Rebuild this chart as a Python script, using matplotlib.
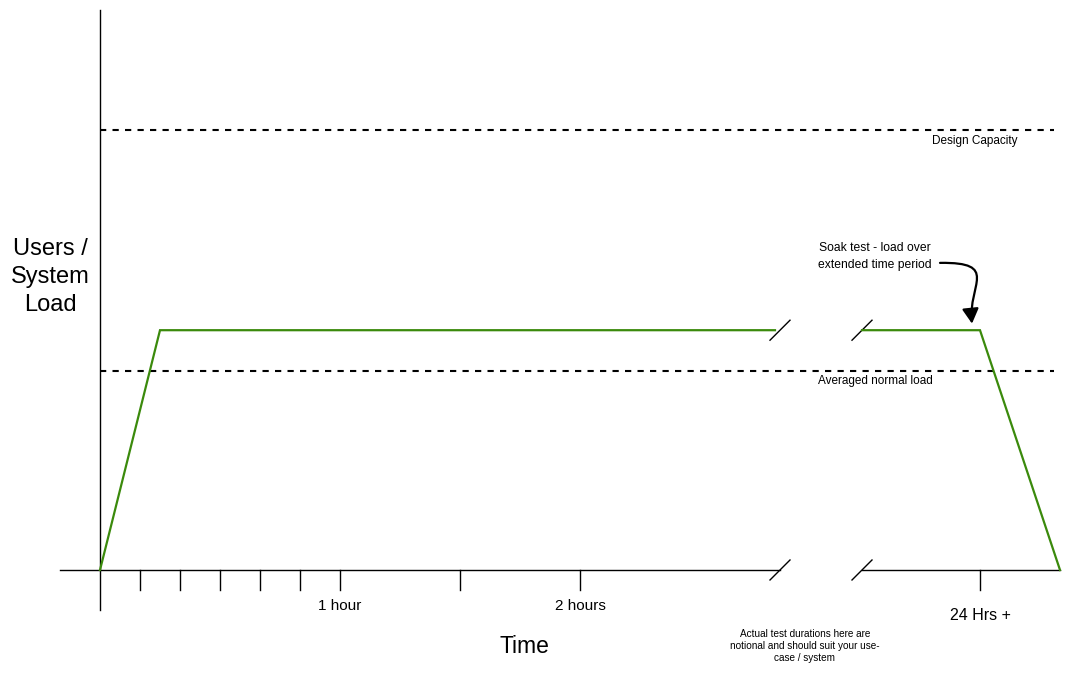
import matplotlib.pyplot as plt
import matplotlib.patches as mpatches
from matplotlib.path import Path

# Time axis in "minutes" for the first section; the section after the axis
# break is a compressed stand-in for the long soak period.
tick_minutes = [10, 20, 30, 40, 50, 60, 90, 120, 220]
tick_labels = {60: '1 hour', 120: '2 hours', 220: '24 Hrs +'}

# Load profile (relative units, design capacity = 100)
ramp_x = [0, 15, 168.75]
ramp_load = [0, 54.5, 54.5]
soak_x = [190.5, 220, 240]
soak_load = [54.5, 54.5, 0]

design_capacity = 100
normal_load = 45.2

GREEN = '#3b8a0c'
BLACK = '#000000'
FONT = 'Liberation Sans'

fig = plt.figure(figsize=(10.72, 6.74), dpi=100)
ax = fig.add_axes([0, 0, 1, 1])
ax.set_xlim(-25, 243)
ax.set_ylim(-23.64, 129.55)
ax.axis('off')

# pixel steps in data units (4 px per minute, 4.4 px per load unit)
dy = 1 / 4.4

# axes
ax.plot([0, 0], [-40 * dy, 560 * dy], color=BLACK, lw=1)
ax.plot([-10, 170], [0, 0], color=BLACK, lw=1)
ax.plot([190.5, 240], [0, 0], color=BLACK, lw=1)
for t in tick_minutes:
    ax.plot([t, t], [0, -20 * dy], color=BLACK, lw=1)
    if t in tick_labels:
        yoff = -46 * dy if t == 220 else -36 * dy
        ax.text(t, yoff, tick_labels[t], ha='center', va='center',
                fontsize=11.5 if t == 220 else 11, family=FONT)

# axis break marks
for bx in (170, 190.5):
    for by in (0, ramp_load[-1]):
        ax.plot([bx - 2.5, bx + 2.5], [by - 10 * dy, by + 10 * dy],
                color=BLACK, lw=1)

# reference lines
for lvl in (design_capacity, normal_load):
    ax.plot([0, 238.5], [lvl, lvl], color=BLACK, lw=1.5,
            linestyle=(0, (3, 3)))
ax.text(218.8, design_capacity - 11 * dy, 'Design Capacity',
        ha='center', va='center', fontsize=8.5, family=FONT)
ax.text(193.8, normal_load - 10 * dy, 'Averaged normal load',
        ha='center', va='center', fontsize=8.5, family=FONT)

# load profile
ax.plot(ramp_x, ramp_load, color=GREEN, lw=1.6, solid_joinstyle='miter')
ax.plot(soak_x, soak_load, color=GREEN, lw=1.6, solid_joinstyle='miter')

# annotation
ax.text(193.8, 71.2, 'Soak test - load over\nextended time period',
        ha='center', va='center', fontsize=8.7, linespacing=1.6,
        family=FONT)
verts = [(210, 69.8), (225, 70.0), (217, 64.8), (218, 56.0)]
arrow = mpatches.FancyArrowPatch(
    path=Path(verts, [Path.MOVETO, Path.CURVE4, Path.CURVE4, Path.CURVE4]),
    arrowstyle='-|>,head_length=9,head_width=5', color=BLACK, lw=1.6)
ax.add_patch(arrow)

# axis titles
ax.text(-12.5, 66.6, 'Users /\nSystem\nLoad', ha='center', va='center',
        fontsize=17, linespacing=1.38, family=FONT)
ax.text(106, -77 * dy, 'Time', ha='center', va='center', fontsize=16.5,
        family=FONT)
ax.text(176.2, -76 * dy,
        'Actual test durations here are\nnotional and should suit your use-\ncase / system',
        ha='center', va='center', fontsize=7.2, linespacing=1.2,
        family=FONT)

fig.savefig('out.png', dpi=100, facecolor='white')
